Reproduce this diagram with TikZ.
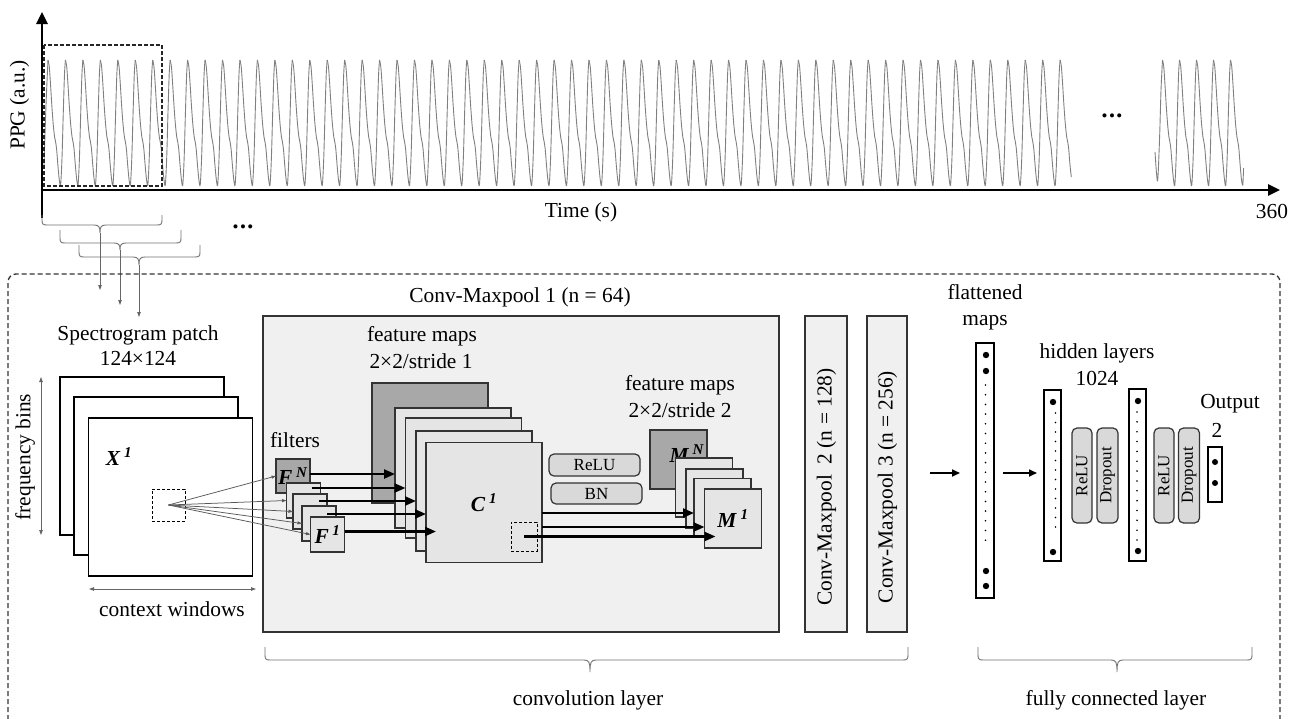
\documentclass[tikz,border=0pt]{standalone}
\usepackage{fontspec}
\setmainfont{Liberation Serif}
\usetikzlibrary{arrows.meta,calc}
\newcommand\mylab[2]{\textbf{\textit{#1}}\,\textsuperscript{\textbf{\textit{#2}}}}
% x1 x2 ytop yline xmid ytip
\newcommand\mybrace[6]{%
  \draw[brk] (#1,#3) -- (#1,#4-5) .. controls (#1,#4-1) and (#1+1,#4) .. (#1+5,#4)
    -- (#5-6,#4) .. controls (#5-1,#4) and (#5,#4+2) .. (#5,#6)
    .. controls (#5,#4+2) and (#5+1,#4) .. (#5+6,#4)
    -- (#2-5,#4) .. controls (#2-1,#4) and (#2,#4-1) .. (#2,#4-5) -- (#2,#3);}
\tikzset{
  axisline/.style={line width=2.6pt,-{Triangle[length=12pt,width=11pt]}},
  wave/.style={draw=black!50,line width=0.9pt,line join=round},
  brk/.style={draw=black!55,line width=0.9pt},
  droparrow/.style={draw=black!60,line width=0.8pt,-{Triangle[length=5pt,width=3.5pt]}},
  dblarrow/.style={draw=black!60,line width=0.8pt,{Triangle[length=5pt,width=3.5pt]}-{Triangle[length=5pt,width=3.5pt]}},
  ray/.style={draw=black!65,line width=0.75pt,-{Triangle[length=4.5pt,width=3pt]}},
  fatarrow/.style={draw=black,line width=2.3pt,-{Triangle[length=11pt,width=9pt]}},
  medarrow/.style={draw=black,line width=1.6pt,-{Triangle[length=8pt,width=7pt]}},
  panel/.style={draw=black!80,line width=1.3pt,fill=black!6,inner sep=0,outer sep=0},
  lmap/.style={draw=black!80,line width=1.3pt,fill=black!10,inner sep=0,outer sep=0},
  dmap/.style={draw=black!80,line width=1.3pt,fill=black!34,inner sep=0,outer sep=0},
  wmap/.style={draw=black,line width=1.6pt,fill=white,inner sep=0,outer sep=0},
  op/.style={draw=black!80,line width=1.2pt,fill=black!15,rounded corners=5pt,inner sep=0,outer sep=0,font=\fontsize{17}{20}\selectfont},
  vec/.style={draw=black,line width=1.4pt,fill=white,inner sep=0,outer sep=0},
  patchbox/.style={draw=black,line width=1pt,dash pattern=on 3pt off 2pt,inner sep=0,outer sep=0},
  winbox/.style={draw=black!85,line width=1.2pt,dash pattern=on 4pt off 2pt},
  bigdash/.style={draw=black!80,line width=1.3pt,dash pattern=on 5pt off 3pt,rounded corners=8pt},
  dotsnode/.style={inner sep=0,font=\fontsize{17}{17}\selectfont},
  txt/.style={inner sep=0,text height=15pt,text depth=4pt}
}
\newcommand\ppgcycle{(0,60) (1.3,67) (2.5,84) (3.8,105) (5.2,124) (6.6,137) (7.6,142) (8.6,149) (9.8,164) (11.2,179) (12.6,185) (14,158) (15.3,112) (16.5,74) (17.45,60)}
\begin{document}
\begin{tikzpicture}[x=1pt,y=-1pt,font=\fontsize{21.4}{25}\selectfont]
\useasboundingbox (0,0) rectangle (1298,718);
\clip (0,0) rectangle (1298,718);
\fill[white] (0,0) rectangle (1298,718);

% ---------------- PPG signal ----------------
\draw[wave] plot[smooth,tension=0.5] coordinates {(44,165) (46,105) (48,60)};
\foreach \n in {0,...,57}{
  \draw[wave,xshift={48+17.45*\n}] plot[smooth,tension=0.5] coordinates {\ppgcycle};
}
\draw[wave,xshift={48+17.45*58}] plot[smooth,tension=0.5] coordinates {(0,60) (1.3,67) (2.5,84) (3.8,105) (5.2,124) (6.6,137) (7.6,142) (8.6,149) (9.8,164) (11.2,177)};
\draw[wave] plot[smooth,tension=0.5] coordinates {(1155,152) (1157.5,181) (1159.5,140) (1161,90) (1162.5,60)};
\foreach \n in {0,...,3}{
  \draw[wave,xshift={1162.5+17*\n},xscale=0.974] plot[smooth,tension=0.5] coordinates {\ppgcycle};
}
\draw[wave,xshift={1162.5+17*4},xscale=0.974] plot[smooth,tension=0.5] coordinates {(0,60) (1.3,67) (2.5,84) (3.8,105) (5.2,124) (6.6,137) (7.6,142) (8.6,149) (9.8,164) (11.2,179) (12.6,185) (13.4,168)};

\draw[winbox] (44,45) rectangle (162,186);

\coordinate (ybot) at (42,218);
\coordinate (ytop) at (42,12);
\coordinate (xl) at (40.7,190);
\coordinate (xr) at (1280,190);
\draw[axisline] (ybot) -- (ytop);
\draw[axisline] (xl) -- (xr);

\node[txt,rotate=90] (ppg) at (19,105) {PPG (a.u.)};
\node[txt] (time) at (581,212) {Time (s)};
\node[txt] (t360) at (1272,213) {360};
\node[dotsnode] (dotsA) at (1112,118) {\textbullet\kern1.5pt\textbullet\kern1.5pt\textbullet};
\node[dotsnode] (dotsB) at (243,229) {\textbullet\kern1.5pt\textbullet\kern1.5pt\textbullet};

% windows braces
\mybrace{42}{162}{215}{225}{100}{233}
\mybrace{60}{181}{230}{243}{120}{250}
\mybrace{79}{200}{245}{257}{139}{265}
\coordinate (w1) at (100,233); \coordinate (w1e) at (100,290);
\coordinate (w2) at (120,250); \coordinate (w2e) at (120,305);
\coordinate (w3) at (139,265); \coordinate (w3e) at (139,317);
\draw[droparrow] (w1) -- (w1e);
\draw[droparrow] (w2) -- (w2e);
\draw[droparrow] (w3) -- (w3e);

% big dashed frame
\draw[bigdash] (8,760) |- (1280,274) -- (1280,760);

% ---------------- spectrogram ----------------
\node[txt] (spt1) at (138,335) {Spectrogram patch};
\node[txt] (spt2) at (138,360) {124×124};
\node[wmap,minimum width=164,minimum height=158] (sp3) at (142,456) {};
\node[wmap,minimum width=164,minimum height=158] (sp2) at (156,476) {};
\node[wmap,minimum width=164,minimum height=158] (sp1) at (170.5,497) {};
\node[txt] (x1lab) at (119,460) {\mylab{X}{1}};
\node[patchbox,minimum width=33,minimum height=32] (patch) at (168.5,505) {};
\coordinate (fb1) at (41,377); \coordinate (fb2) at (41,535);
\draw[dblarrow] (fb1) -- (fb2);
\node[txt,rotate=90] (freq) at (25,457) {frequency bins};
\coordinate (cw1) at (89,589); \coordinate (cw2) at (256,589);
\draw[dblarrow] (cw1) -- (cw2);
\node[txt] (ctx) at (172,611) {context windows};

% ---------------- Conv-Maxpool 1 ----------------
\node[panel,minimum width=516,minimum height=316] (cm1) at (521,474) {};
\node[txt] (cm1t) at (520,297) {Conv-Maxpool 1 (n = 64)};
\node[panel,minimum width=42,minimum height=316] (cm2) at (826,474) {};
\node[txt,rotate=90] (cm2t) at (826,487) {Conv-Maxpool\ \ 2 (n = 128)};
\node[panel,minimum width=40,minimum height=316] (cm3) at (887,474) {};
\node[txt,rotate=90] (cm3t) at (887,487) {Conv-Maxpool 3 (n = 256)};

\node[txt] (filt) at (295,442) {filters};
\node[dmap,minimum width=34,minimum height=34] (fN) at (293,476) {\mylab{F}{N}};
\node[lmap,minimum width=34,minimum height=35] (f2) at (303.5,500.5) {};
\node[lmap,minimum width=34,minimum height=35] (f3) at (310,511.5) {};
\node[lmap,minimum width=34,minimum height=35] (f4) at (319,523.5) {};
\node[lmap,minimum width=34,minimum height=35] (f1) at (327.5,534.5) {\mylab{F}{1}};
\foreach \t in {fN,f2,f3,f4,f1}{\draw[ray] (patch.center) -- (\t.west);}

\node[txt] (fm1a) at (422,336) {feature maps};
\node[txt] (fm1b) at (421,363) {2×2/stride 1};
\node[dmap,minimum width=116,minimum height=120] (cN) at (430,443) {};
\node[lmap,minimum width=116,minimum height=120] (c4) at (453,468) {};
\node[lmap,minimum width=116,minimum height=120] (c3) at (463.5,478) {};
\node[lmap,minimum width=116,minimum height=120] (c2) at (474,491) {};
\node[lmap,minimum width=116,minimum height=120] (c1) at (484,502.5) {\mylab{C}{1}};
\node[patchbox,minimum width=26,minimum height=29] (cpatch) at (524,536.5) {};

\coordinate (a2s) at ([shift={(-9,5)}]f2.north east);
\coordinate (a3s) at ([shift={(-8,7)}]f3.north east);
\coordinate (a4s) at ([shift={(-9,8)}]f4.north east);
\coordinate (a5s) at ([shift={(0,-3)}]f1.east);
\draw[fatarrow] ([yshift=2pt]fN.east) -- ([yshift=2pt]fN.east -| c4.west);
\draw[fatarrow] (a2s) -- (a2s -| c3.west);
\draw[fatarrow] (a3s) -- (a3s -| c2.west);
\draw[fatarrow] (a4s) -- (a4s -| c1.west);
\draw[fatarrow] (a5s) -- ($(a5s -| c1.west)+(10,0)$);

\node[op,minimum width=91,minimum height=22] (relu0) at (594.5,465) {ReLU};
\node[op,minimum width=91,minimum height=21] (bn0) at (596.5,493.5) {BN};

\node[txt] (fm2a) at (680,385) {feature maps};
\node[txt] (fm2b) at (680,412) {2×2/stride 2};
\node[dmap,minimum width=57,minimum height=59] (mN) at (678.5,459.5) {};
\node[txt] (mNl) at (687,457) {\mylab{M}{N}};
\node[lmap,minimum width=57,minimum height=59] (m4) at (704,487.5) {};
\node[lmap,minimum width=57,minimum height=59] (m3) at (714.5,498.5) {};
\node[lmap,minimum width=57,minimum height=59] (m2) at (722.5,508) {};
\node[lmap,minimum width=57,minimum height=59] (m1) at (733,518.5) {\mylab{M}{1}};

\coordinate (b1s) at ($(c1.east)+(0,10.5)$);
\coordinate (b2s) at ($(c1.east)+(0,24.5)$);
\draw[fatarrow] (b1s) -- (b1s -| m2.west);
\draw[fatarrow] (b2s) -- (b2s -| m1.west);
\draw[fatarrow] (cpatch.center) -- ($(cpatch.center -| m1.west)+(11,0)$);

% ---------------- fully connected ----------------
\node[txt] (flt1) at (985,293.5) {flattened};
\node[txt] (flt2) at (985,319.5) {maps};
\node[vec,minimum width=18,minimum height=255] (flat) at (985,470.5) {};
\foreach \y in {355,371,571,586}{\fill (986,\y) circle (3.2);}
\foreach \k in {0,...,16}{\fill (985.5,385+9.7*\k) circle (0.9);}

\node[txt] (hl1) at (1097,353) {hidden layers};
\node[txt] (hl2) at (1097,380) {1024};
\node[vec,minimum width=17,minimum height=171] (h1) at (1052.5,475.5) {};
\foreach \y in {402,552}{\fill (1053,\y) circle (3.2);}
\foreach \k in {0,...,12}{\fill (1055.5,413+9.5*\k) circle (0.9);}
\node[vec,minimum width=17,minimum height=172] (h2) at (1137.5,475) {};
\foreach \y in {401,551}{\fill (1138,\y) circle (3.2);}
\foreach \k in {0,...,13}{\fill (1137,412+9.85*\k) circle (0.9);}

\node[op,rotate=90,minimum width=95,minimum height=20] (relu1) at (1082,475.5) {ReLU};
\node[op,rotate=90,minimum width=95,minimum height=21] (drop1) at (1107.5,475.5) {Dropout};
\node[op,rotate=90,minimum width=95,minimum height=20] (relu2) at (1164,475.5) {ReLU};
\node[op,rotate=90,minimum width=95,minimum height=21] (drop2) at (1189,475.5) {Dropout};

\node[txt] (outt) at (1230,403) {Output};
\node[txt] (out2) at (1217,432) {2};
\node[vec,minimum width=14,minimum height=55] (outv) at (1215,474.5) {};
\foreach \y in {462,483}{\fill (1215,\y) circle (3);}

\draw[medarrow] ($(cm3.east)+(23,-1)$) -- ($(flat.west)+(-16,2.5)$);
\draw[medarrow] ($(flat.east)+(9,2.5)$) -- ($(h1.west)+(-7,-2.5)$);

% bottom braces
\mybrace{265}{908}{647}{660}{590}{672}
\mybrace{978}{1252}{647}{660}{1117}{672}
\node[txt] (convl) at (588,700) {convolution layer};
\node[txt] (fcl) at (1116,700) {fully connected layer};
\end{tikzpicture}
\end{document}
